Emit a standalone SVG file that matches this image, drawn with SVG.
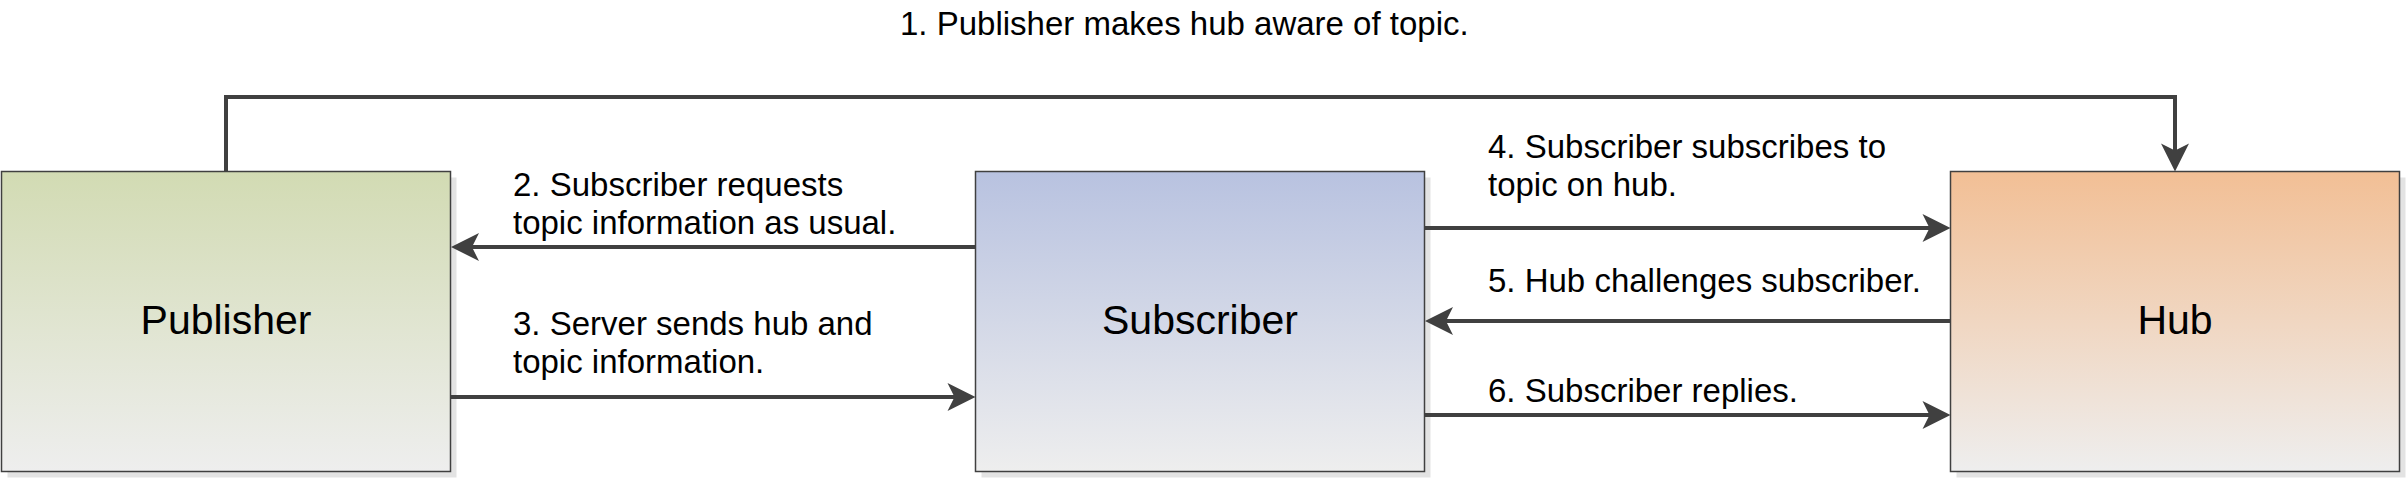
<svg xmlns="http://www.w3.org/2000/svg" width="2406" height="478" viewBox="0 0 2406 478">
  <defs>
    <linearGradient id="gPub" x1="0" y1="0" x2="0" y2="1">
      <stop offset="0" stop-color="#d2dbb3"/>
      <stop offset="1" stop-color="#eeeeee"/>
    </linearGradient>
    <linearGradient id="gSub" x1="0" y1="0" x2="0" y2="1">
      <stop offset="0" stop-color="#b8c2e0"/>
      <stop offset="1" stop-color="#eeeeee"/>
    </linearGradient>
    <linearGradient id="gHub" x1="0" y1="0" x2="0" y2="1">
      <stop offset="0" stop-color="#f2bf95"/>
      <stop offset="1" stop-color="#eeeeee"/>
    </linearGradient>
    <marker id="arr" markerUnits="userSpaceOnUse" viewBox="-30 -16 32 32" refX="-12" refY="0" markerWidth="32" markerHeight="32" orient="auto">
      <path d="M0,0 L-28,-14 L-21,0 L-28,14 Z" fill="#404040"/>
    </marker>
  </defs>
  <style>
    .shadow { fill: #e3e3e3; }
    .box { stroke: #404040; stroke-width: 1.5; }
    .name { font-family: "Liberation Sans", Arial, sans-serif; font-size: 41px; fill: #000; text-anchor: middle; }
    .lbl { font-family: "Liberation Sans", Arial, sans-serif; font-size: 33px; fill: #000; }
    .conn { fill: none; stroke: #404040; stroke-width: 4; }
  </style>
  <rect width="2406" height="478" fill="#ffffff"/>

  <g id="publisher">
    <rect class="shadow" x="7.5" y="177.5" width="449" height="300"/>
    <rect class="box" x="1.5" y="171.5" width="449" height="300" fill="url(#gPub)"/>
    <text class="name" x="226" y="334">Publisher</text>
  </g>
  <g id="subscriber">
    <rect class="shadow" x="981.5" y="177.5" width="449" height="300"/>
    <rect class="box" x="975.5" y="171.5" width="449" height="300" fill="url(#gSub)"/>
    <text class="name" x="1200" y="334">Subscriber</text>
  </g>
  <g id="hub">
    <rect class="shadow" x="1956.5" y="177.5" width="449" height="300"/>
    <rect class="box" x="1950.5" y="171.5" width="449" height="300" fill="url(#gHub)"/>
    <text class="name" x="2175" y="334">Hub</text>
  </g>

  <g id="connectors">
    <path class="conn" d="M226,171.5 V97 H2175 V159.5" marker-end="url(#arr)"/>
    <path class="conn" d="M975.5,247 H463" marker-end="url(#arr)"/>
    <path class="conn" d="M450.5,397 H963.5" marker-end="url(#arr)"/>
    <path class="conn" d="M1424.5,228 H1938.5" marker-end="url(#arr)"/>
    <path class="conn" d="M1950.5,321 H1437" marker-end="url(#arr)"/>
    <path class="conn" d="M1424.5,415 H1938.5" marker-end="url(#arr)"/>
  </g>

  <g id="labels">
    <text class="lbl" x="900" y="35">1. Publisher makes hub aware of topic.</text>
    <text class="lbl" x="513" y="196">2. Subscriber requests</text>
    <text class="lbl" x="513" y="234">topic information as usual.</text>
    <text class="lbl" x="513" y="335">3. Server sends hub and</text>
    <text class="lbl" x="513" y="373">topic information.</text>
    <text class="lbl" x="1488" y="158">4. Subscriber subscribes to</text>
    <text class="lbl" x="1488" y="196">topic on hub.</text>
    <text class="lbl" x="1488" y="292">5. Hub challenges subscriber.</text>
    <text class="lbl" x="1488" y="402">6. Subscriber replies.</text>
  </g>
</svg>
